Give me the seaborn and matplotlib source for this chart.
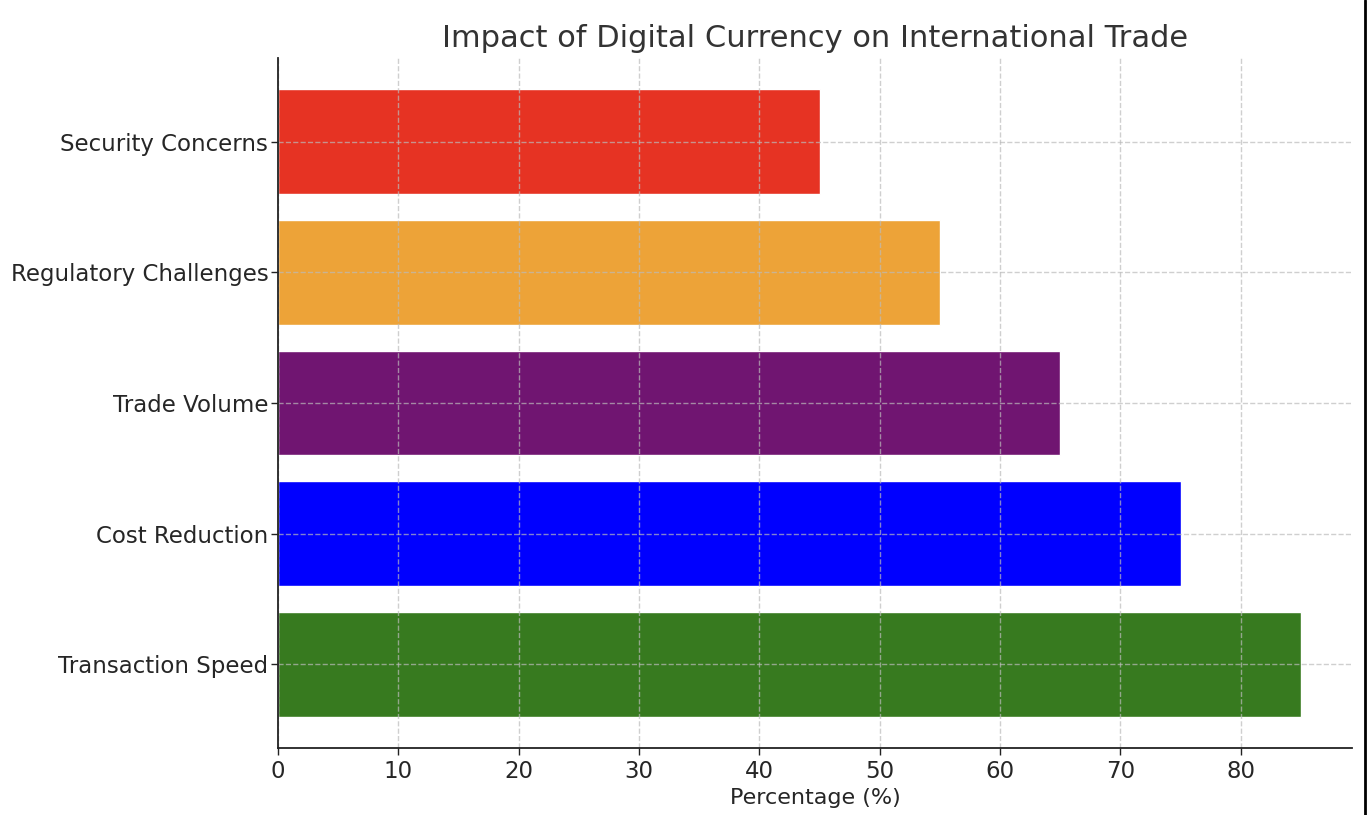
import matplotlib
matplotlib.use("Agg")
import matplotlib.pyplot as plt
import seaborn as sns
import pandas as pd
from matplotlib.lines import Line2D

categories = ["Security Concerns", "Regulatory Challenges", "Trade Volume", "Cost Reduction", "Transaction Speed"]
values = [45, 55, 65, 75, 85]
colors = ["#E63323", "#EDA338", "#701571", "#0000FF", "#377A1F"]
xticks = [0, 10, 20, 30, 40, 50, 60, 70, 80]

sns.set_style("white")
plt.rcParams['font.family'] = ['DejaVu Sans']

df = pd.DataFrame({"Factor": categories, "Percentage": values})

fig = plt.figure(figsize=(13.67, 8.15), dpi=100)
ax = fig.add_axes([278/1367, 1-748/815, (1352-278)/1367, (748-58)/815])

sns.barplot(data=df, y="Factor", x="Percentage", hue="Factor", order=categories,
            hue_order=categories, palette=colors, orient="h", width=0.8,
            legend=False, ax=ax, saturation=1)

for b in ax.patches:
    b.set_zorder(1)
ax.set_axisbelow(False)

ax.set_ylim(4.64, -0.64)
ax.set_xlim(0, 89.25)
ax.set_xticks(xticks)
ax.grid(True, linestyle="--", color="#bbbbbb", linewidth=1, alpha=0.7, zorder=2)

ax.spines["top"].set_visible(False)
ax.spines["right"].set_visible(False)
for s in ["left", "bottom"]:
    ax.spines[s].set_color("#222222")
    ax.spines[s].set_linewidth(1.3)
    ax.spines[s].set_zorder(5)
ax.tick_params(axis="both", which="both", length=5, width=1, color="#222222",
               labelsize=16.5, labelcolor="#262626", left=True, bottom=True)
ax.tick_params(axis="y", pad=2)

ax.set_title("Impact of Digital Currency on International Trade", fontsize=22, color="#333333", pad=8)
ax.set_xlabel("Percentage (%)", fontsize=16, color="#262626")
ax.set_ylabel("")

fig.add_artist(Line2D([1365/1367, 1365/1367], [0, 1], transform=fig.transFigure, color="black", linewidth=2))

fig.savefig("out.png", dpi=100)
